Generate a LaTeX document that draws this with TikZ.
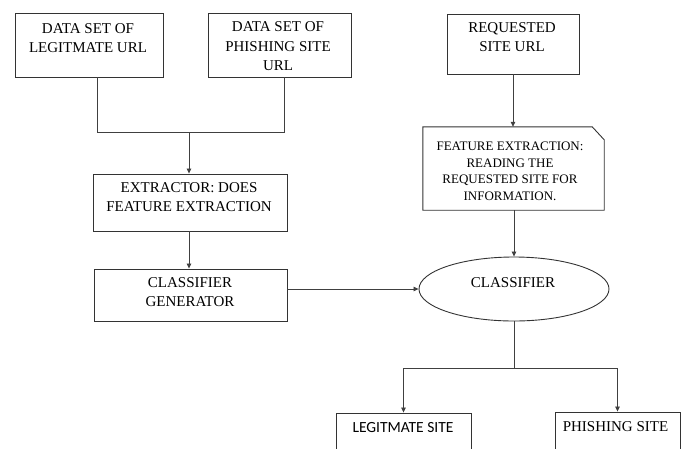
\documentclass[tikz,border=0pt]{standalone}
\usepackage{fontspec}
\setmainfont{Liberation Serif}
\newfontfamily\tnr{Liberation Serif}
\newfontfamily\carlito{Carlito}
\usepackage{tikz}
\usetikzlibrary{arrows.meta,shapes.geometric}

\begin{document}
\begin{tikzpicture}[x=1pt,y=-1pt,
    box/.style={rectangle,draw=black!80,line width=0.9pt,inner sep=0pt},
    txt/.style={align=center,inner sep=0pt,font=\tnr\fontsize{15}{18.5}\selectfont},
    link/.style={draw=black!75,line width=0.8pt},
    arr/.style={link,-{Triangle[length=5pt,width=4.5pt]}}]
    \clip (0,0) rectangle (684,448);

    % Training data
    \node[box,minimum width=148pt,minimum height=64pt] (legit) at (89,45) {};
    \node[txt] (legitT) at (88,38) {DATA SET OF\\LEGITMATE URL};
    \node[box,minimum width=143pt,minimum height=64pt] (phish) at (279.5,45) {};
    \node[txt,font=\tnr\fontsize{15}{19.5}\selectfont] (phishT) at (278,46.5) {DATA SET OF\\PHISHING SITE\\URL};

    % Extractor and generator
    \node[box,minimum width=194pt,minimum height=57pt] (extr) at (190,202.5) {};
    \node[txt] (extrT) at (189,197) {EXTRACTOR: DOES\\FEATURE EXTRACTION};
    \node[box,minimum width=193pt,minimum height=52pt] (gen) at (190.5,295) {};
    \node[txt] (genT) at (190,292) {CLASSIFIER\\GENERATOR};

    % Requested site
    \node[box,minimum width=132pt,minimum height=60pt] (req) at (513,44) {};
    \node[txt] (reqT) at (512,37) {REQUESTED\\SITE URL};
    \node[rectangle,inner sep=0pt,minimum width=181pt,minimum height=83pt] (feat) at (513.5,168.5) {};
    \draw[draw=black!80,line width=0.9pt] (feat.south west) -- (feat.north west)
        -- ([xshift=-12pt]feat.north east) -- ([yshift=-13pt]feat.north east)
        -- (feat.south east) -- cycle;
    \node[txt,font=\tnr\fontsize{13}{16.5}\selectfont] (featT) at (510,171.5)
        {FEATURE EXTRACTION:\\READING THE\\REQUESTED SITE FOR\\INFORMATION.};

    % Classifier
    \node[ellipse,draw=black!80,line width=0.9pt,inner sep=0pt,
          minimum width=190pt,minimum height=64pt] (clf) at (514,289) {};
    \node[txt] (clfT) at (513,282.5) {CLASSIFIER};

    % Results
    \node[box,minimum width=135pt,minimum height=57pt] (lsite) at (403.5,441.5) {};
    \node[txt,font=\carlito\fontsize{15.5}{18}\selectfont] (lsiteT) at (403,428) {LEGITMATE SITE};
    \node[box,minimum width=125pt,minimum height=58pt] (psite) at (617.5,441) {};
    \node[txt] (psiteT) at (615.5,427) {PHISHING SITE};

    % Connectors
    \coordinate (jl) at (97,132);
    \coordinate (jr) at (284,132);
    \coordinate (jm) at (189,132);
    \draw[link] (legit.south -| jl) -- (jl) -- (jr) -- (phish.south -| jr);
    \draw[arr] (jm) -- (extr.north -| jm);
    \draw[arr] (extr.south -| jm) -- (gen.north -| jm);
    \draw[arr] (req.south) -- (req.south |- feat.north);
    \draw[arr] (feat.south -| clf.north) -- (clf.north);
    \draw[arr] (clf.west -| gen.east) -- (clf.west);
    \coordinate (fork) at (514,368);
    \draw[link] (clf.south) -- (fork);
    \draw[arr] (fork) -| (lsite.north);
    \draw[arr] (fork) -| (psite.north);
\end{tikzpicture}
\end{document}
